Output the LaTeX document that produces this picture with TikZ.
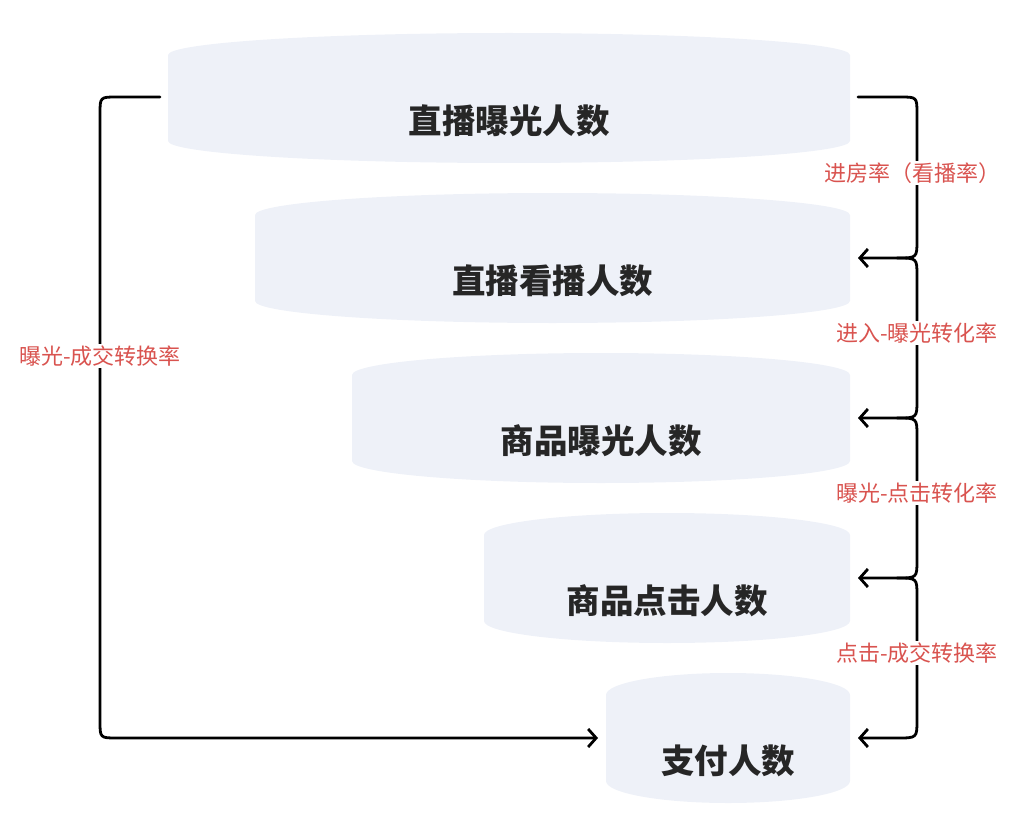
\documentclass[tikz,border=0pt]{standalone}
\usepackage{fontspec}
\setmainfont{Noto Sans CJK SC}
\usetikzlibrary{arrows.meta}
\definecolor{boxfill}{HTML}{EEF1F8}
\definecolor{lab}{HTML}{D9534F}
\begin{document}
\begin{tikzpicture}[x=1pt,y=-1pt,
  ttl/.style={font=\fontsize{33.5}{36}\selectfont\bfseries, text=black!85},
  rl/.style={font=\fontsize{22}{24}\selectfont, text=lab, fill=white, inner sep=2pt},
  ln/.style={line width=2.8pt, black, line cap=round, line join=round},
  tip/.style={-{Straight Barb[length=8pt,width=18pt,line width=2.8pt]}}]
\useasboundingbox (0,0) rectangle (1028,832);
\foreach \x/\t/\n [count=\i] in {168/33/直播曝光人数,255/193/直播看播人数,352/353/商品曝光人数,484/513/商品点击人数,606/673/支付人数}{
  \pgfmathsetmacro\w{(850-\x)/2}
  \fill[boxfill] (\x,\t+22) arc[start angle=180,end angle=0,x radius=\w,y radius=-22] -- (850,\t+108) arc[start angle=0,end angle=-180,x radius=\w,y radius=-22] -- cycle;
  \node[ttl] (b\i) at ({(\x+850)/2},\t+88) {\n};
}
\coordinate (s) at (858,97);
\coordinate (a2) at (858,258);
\coordinate (a3) at (858,418);
\coordinate (a4) at (858,578);
\coordinate (a5) at (858,738);
\draw[ln,tip] (s) -- (900,97) .. controls (917,97) .. (917,114) -- (917,240) .. controls (917,258) .. (897,258) -- (a2);
\foreach \y/\p in {258/a3,418/a4,578/a5}{
  \draw[ln,tip] (897,\y) .. controls (917,\y) .. (917,\y+18) -- (917,\y+142) .. controls (917,\y+160) .. (897,\y+160) -- (\p);
}
\node[rl] (l1) at (912,173) {进房率（看播率）};
\node[rl] (l2) at (917,333) {进入-曝光转化率};
\node[rl] (l3) at (917,493) {曝光-点击转化率};
\node[rl] (l4) at (917,653) {点击-成交转换率};
\coordinate (ls) at (160,97);
\coordinate (le) at (598,738);
\draw[ln,tip] (ls) -- (117,97) .. controls (100,97) .. (100,114) -- (100,721) .. controls (100,738) .. (117,738) -- (le);
\node[rl] (l0) at (100,356) {曝光-成交转换率};
\end{tikzpicture}
\end{document}
